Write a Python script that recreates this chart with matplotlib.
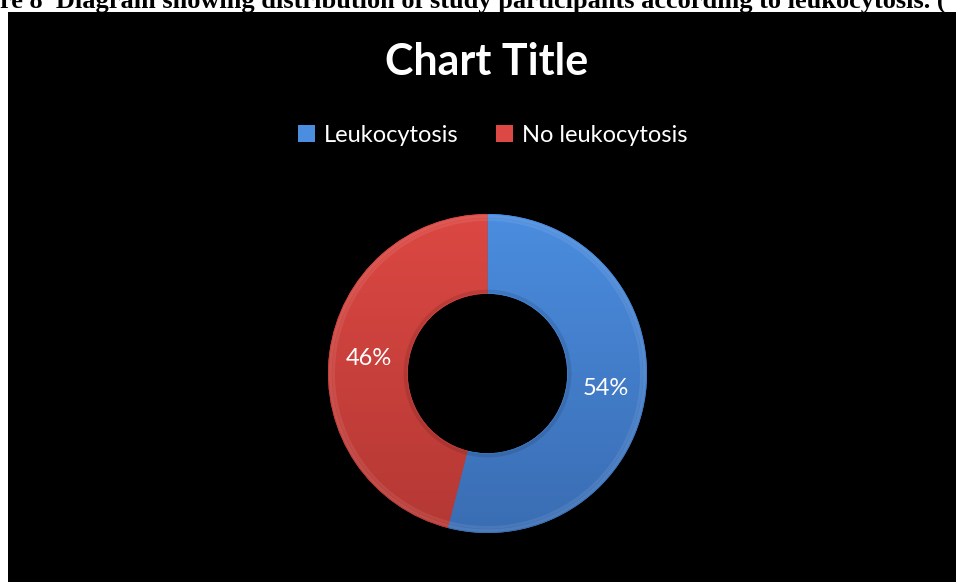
import matplotlib
matplotlib.use("Agg")
from matplotlib import pyplot as plt
from matplotlib.colors import LinearSegmentedColormap
from matplotlib.patches import Rectangle, Patch
import numpy as np

labels = ["Leukocytosis", "No leukocytosis"]
shares = [54, 46]
top_colors = ["#4b8ddf", "#dc4843"]
bottom_colors = ["#3a6db3", "#b43834"]

plt.rcParams["font.family"] = ["Lato", "DejaVu Sans"]

W, H = 956, 582
fig = plt.figure(figsize=(W / 100, H / 100), dpi=100, facecolor="white")

# caption line of the page, cut off at the top edge
fig.text(0.0, 1 - 8 / H, "re 8  Diagram showing distribution of study participants according to leukocytosis. (",
         family=["Liberation Serif", "DejaVu Serif"], weight="bold", fontsize=19,
         color="black", ha="left", va="baseline", zorder=-2)

# black chart area
fig.patches.append(Rectangle((8 / W, 0), 1 - 8 / W, 1 - 12 / H, transform=fig.transFigure,
                             facecolor="black", edgecolor="none", zorder=-1))

fig.text(487 / W, 1 - 62 / H, "Chart Title", color="white", fontsize=31, weight="bold",
         ha="center", va="center")

# doughnut
R = 159.5
cx, cy = 487.5, 373.5
ax = fig.add_axes([(cx - R) / W, (H - cy - R) / H, 2 * R / W, 2 * R / H])
wedges, texts, autotexts = ax.pie(shares, colors=top_colors, startangle=90, counterclock=False,
                                  radius=1, wedgeprops=dict(width=0.5, edgecolor="none"),
                                  autopct="%d%%", pctdistance=0.75,
                                  textprops=dict(color="white", fontsize=17))
ax.set_xlim(-1, 1)
ax.set_ylim(-1, 1)
ax.axis("off")

# vertical shading inside each wedge
grad = np.linspace(0, 1, 256).reshape(-1, 1)
for w, c0, c1 in zip(wedges, top_colors, bottom_colors):
    cmap = LinearSegmentedColormap.from_list("shade", [c1, c0])
    im = ax.imshow(grad, cmap=cmap, extent=(-1, 1, -1, 1), origin="lower", aspect="auto", zorder=1)
    im.set_clip_path(w)
    w.set_zorder(0)
for t in autotexts:
    t.set_zorder(5)

# soft rim highlight
theta = np.linspace(0, 2 * np.pi, 400)
for r, a in [(0.985, 0.10), (0.965, 0.08)]:
    ax.plot(r * np.cos(theta), r * np.sin(theta), color="white", alpha=a, lw=2, zorder=2)
ax.plot(0.515 * np.cos(theta), 0.515 * np.sin(theta), color="black", alpha=0.10, lw=2.5, zorder=2)

handles = [Patch(facecolor=c, edgecolor="none") for c in top_colors]
fig.legend(handles, labels, loc="center", bbox_to_anchor=(493 / W, 1 - 135 / H), ncol=2,
           frameon=False, fontsize=17, labelcolor="white", handlelength=0.7, handleheight=0.7,
           handletextpad=0.4, columnspacing=1.6)

fig.savefig("out.png", dpi=100, facecolor="white")
